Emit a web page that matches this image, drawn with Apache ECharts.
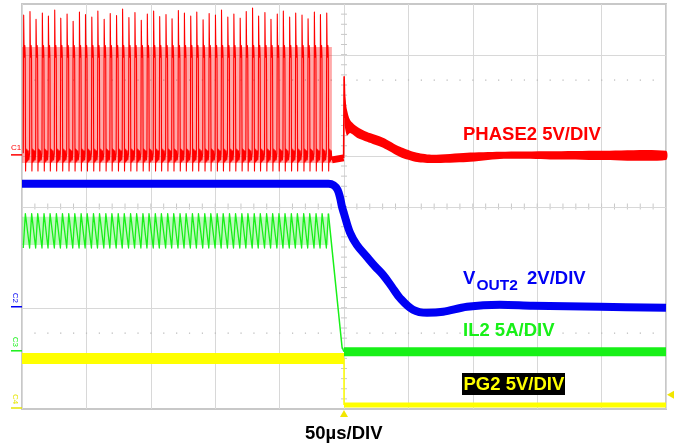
<!DOCTYPE html>
<html>
<head>
<meta charset="utf-8">
<script src="https://cdn.jsdelivr.net/npm/echarts@6/dist/echarts.min.js"></script>
<style>
html,body{margin:0;padding:0;background:#fff;}
#scope{width:676px;height:445px;}
</style>
</head>
<body>
<div id="scope"></div>
<script>
// Horizontal scale: 50 µs per division, trigger at 0. Vertical scale in divisions (0 = bottom line).
const timeMin = -250;
const timeMax = 250;
const timeStep = 50;

// PHASE2 switching pulses before the load step: start time (µs) and spike top (div)
const pulseTimes = [-249.0,-244.1,-239.4,-234.5,-229.8,-224.9,-220.2,-215.3,-210.6,-205.7,
  -201.0,-196.1,-191.4,-186.5,-181.8,-176.9,-172.2,-167.3,-162.6,-157.7,
  -153.0,-148.1,-143.4,-138.5,-133.8,-128.9,-124.2,-119.3,-114.6,-109.7,
  -105.0,-100.1,-95.4,-90.5,-85.8,-80.9,-76.2,-71.3,-66.6,-61.7,
  -57.0,-52.1,-47.4,-42.5,-37.8,-32.9,-28.2,-23.3,-18.6,-13.7];
const pulsePeaks = [7.78,7.85,7.70,7.82,7.76,7.88,7.72,7.80,7.66,7.84,
  7.79,7.74,7.86,7.70,7.81,7.77,7.90,7.73,7.83,7.68,
  7.80,7.86,7.75,7.79,7.71,7.87,7.82,7.76,7.84,7.69,
  7.81,7.78,7.88,7.74,7.80,7.72,7.85,7.92,7.76,7.83,
  7.70,7.80,7.86,7.74,7.82,7.78,7.71,7.84,7.79,7.82];
// One switching cycle of PHASE2: [offset µs, level div]; null = spike top of that pulse
const phaseCycle = [[0,5.05],[0.3,null],[0.6,7.15],[0.9,6.95],[1.2,7.18],[1.5,6.98],[1.8,4.70],
  [2.1,5.14],[2.5,4.88],[2.9,5.12],[3.3,4.90],[3.8,5.10],[4.3,4.92]];
const phaseIdle = [[-9.4,4.92],[-0.3,4.96]];
const phaseSpike = [[-0.3,4.96],[0.1,6.56],[0.5,6.15],[0.9,5.75]];
// PHASE2 after the step: noise envelope (upper / lower edge)
const phaseTailTime  = [0.6,2.3,4.7,10,17.9,30.3,43.5,56.7,69.1,95.5,121,160,199,250];
const phaseTailUpper = [6.20,5.91,5.71,5.58,5.47,5.36,5.18,5.06,5.02,5.06,5.08,5.09,5.10,5.10];
const phaseTailLower = [5.60,5.40,5.45,5.36,5.28,5.16,4.98,4.88,4.86,4.88,4.94,4.93,4.92,4.92];

// VOUT2 (div)
const voutTime  = [-250,-12,-8,-5,-3,-1.6,0,4.7,10,17.6,24,30.3,37,43.5,53.6,64.4,76.9,95.5,121,146.7,198.8,250];
const voutLevel = [4.45,4.45,4.42,4.33,4.17,4.00,3.86,3.48,3.24,3.01,2.82,2.65,2.42,2.19,1.96,1.90,1.92,2.02,2.06,2.04,2.02,2.00];

// IL2 inductor current ripple (valley / peak, div) and its fall after switching stops
const ilValley = 3.18;
const ilPeak = 3.86;
const ilRise = 1.6;
const ilFall = [[-12.1,3.86],[-1.5,1.22],[0,1.13],[250,1.13]];

// PG2 (div)
const pgBefore = [[-250,1.0],[0,1.0]];
const pgEdge = [[0,1.0],[0,0.08]];
const pgAfter = [[0,0.08],[250,0.08]];
const triggerLevel = 0.28;

// Graticule lines drawn solid / dotted (div)
const solidRows = [2,4,5,7];
const dottedRows = [6.5,1.5];

const RED = '#ff0000', BLUE = '#0000f4', GREEN = '#18f018', YELLOW = '#ffff00';

// ---- build traces ----
const phasePulses = [];
pulseTimes.forEach((t, i) => {
  phaseCycle.forEach(p => phasePulses.push([t + p[0], p[1] === null ? pulsePeaks[i] : p[1]]));
});
const ilRipple = [];
pulseTimes.forEach(t => { ilRipple.push([t, ilValley]); ilRipple.push([t + ilRise, ilPeak]); });

const chart = echarts.init(document.getElementById('scope'), null, {renderer: 'canvas'});

function trace(data, color, width, z, smooth) {
  return {
    type: 'line', data: data, showSymbol: false, symbol: 'none', silent: true, z: z,
    animation: false, smooth: smooth || false,
    lineStyle: {color: color, width: width, cap: 'butt', join: 'round'}
  };
}

const graticule = {
  type: 'custom', silent: true, z: 1, data: [[0, 0]],
  renderItem: function (params, api) {
    const kids = [];
    // minor ticks on the centre cross
    for (let k = 1; k < 50; k++) {
      const p = api.coord([timeMin + k * 10, 4]);
      kids.push({type: 'line', shape: {x1: p[0], y1: p[1] - 3, x2: p[0], y2: p[1] + 3},
        style: {stroke: '#c8c8c8', lineWidth: 1}});
    }
    for (let k = 1; k < 40; k++) {
      const p = api.coord([0, k * 0.2]);
      kids.push({type: 'line', shape: {x1: p[0] - 3, y1: p[1], x2: p[0] + 3, y2: p[1]},
        style: {stroke: '#c8c8c8', lineWidth: 1}});
    }
    solidRows.forEach(v => {
      const a = api.coord([timeMin, v]), b = api.coord([timeMax, v]);
      kids.push({type: 'line', shape: {x1: a[0], y1: Math.round(a[1]) + 0.5, x2: b[0], y2: Math.round(b[1]) + 0.5},
        style: {stroke: '#d8d8d8', lineWidth: 1}});
    });
    dottedRows.forEach(v => {
      for (let k = 1; k < 50; k++) {
        const p = api.coord([timeMin + k * 10, v]);
        kids.push({type: 'rect', shape: {x: p[0] - 0.5, y: p[1] - 0.5, width: 1.2, height: 1.2},
          style: {fill: '#b8b8b8'}});
      }
    });
    return {type: 'group', children: kids};
  }
};

// persistence haze behind the fast switching traces
function haze(t0, t1, lo, hi, fill, z) {
  return {
    type: 'custom', silent: true, z: z, data: [[t0, t1, lo, hi]],
    renderItem: function (params, api) {
      const a = api.coord([api.value(0), api.value(3)]);
      const b = api.coord([api.value(1), api.value(2)]);
      return {type: 'rect', shape: {x: a[0], y: a[1], width: b[0] - a[0], height: b[1] - a[1]}, style: {fill: fill}};
    }
  };
}

const phaseTail = {
  type: 'custom', silent: true, z: 6, data: [[0, 0]],
  renderItem: function (params, api) {
    const pts = [];
    phaseTailTime.forEach((t, i) => pts.push(api.coord([t, phaseTailUpper[i]])));
    for (let i = phaseTailTime.length - 1; i >= 0; i--) pts.push(api.coord([phaseTailTime[i], phaseTailLower[i]]));
    return {type: 'polygon', shape: {points: pts, smooth: 0.25}, style: {fill: RED}};
  }
};

const lastPulse = pulseTimes[pulseTimes.length - 1];

chart.setOption({
  animation: false,
  backgroundColor: '#ffffff',
  grid: {left: 22, right: 10, top: 4, bottom: 36, show: true, borderColor: '#c8c8c8', borderWidth: 2, backgroundColor: 'transparent'},
  xAxis: {type: 'value', min: timeMin, max: timeMax, interval: timeStep,
    axisLine: {show: false}, axisTick: {show: false}, axisLabel: {show: false},
    splitLine: {show: true, lineStyle: {color: '#d8d8d8', width: 1}}},
  yAxis: {type: 'value', min: 0, max: 8, interval: 1,
    axisLine: {show: false}, axisTick: {show: false}, axisLabel: {show: false}, splitLine: {show: false}},
  series: [
    graticule,
    haze(pulseTimes[0] - 1, lastPulse + 4.3, 4.86, 7.15, 'rgba(255,40,40,0.40)', 2),
    haze(pulseTimes[0] - 1, lastPulse + 1.6, 3.24, 3.80, 'rgba(40,235,40,0.30)', 2),
    trace(pgBefore, YELLOW, 11, 3),
    trace(pgEdge, YELLOW, 1.5, 3),
    trace(pgAfter, YELLOW, 5, 3),
    trace(ilRipple, GREEN, 1.3, 4),
    trace(ilFall.slice(0, 3), GREEN, 1.5, 4),
    trace(ilFall.slice(2), GREEN, 9, 4),
    trace(voutTime.map((t, i) => [t, voutLevel[i]]), BLUE, 8, 5, 0.35),
    trace(phasePulses, RED, 1.1, 6),
    trace(phaseIdle, RED, 7, 6),
    trace(phaseSpike, RED, 1.6, 6),
    phaseTail
  ]
});

// ---- annotations ----
const FONT = 'bold 18.5px "Liberation Sans", Arial, sans-serif';
const o = chart.convertToPixel({gridIndex: 0}, [0, 0]);
const r = chart.convertToPixel({gridIndex: 0}, [timeMax, triggerLevel]);
const c1 = chart.convertToPixel({gridIndex: 0}, [timeMin, 5.0]);
const c2 = chart.convertToPixel({gridIndex: 0}, [timeMin, 2.0]);
const c3 = chart.convertToPixel({gridIndex: 0}, [timeMin, 1.13]);
const c4 = chart.convertToPixel({gridIndex: 0}, [timeMin, 0]);

function label(text, x, y, fill, font) {
  return {type: 'text', x: x, y: y, z: 20, silent: true,
    style: {text: text, fill: fill, font: font || FONT, textAlign: 'left', textVerticalAlign: 'middle', verticalAlign: 'middle'}};
}
function chan(text, pos, color, rotated) {
  const els = [];
  const font = '8px "Liberation Sans", Arial, sans-serif';
  if (rotated) {
    els.push({type: 'text', x: pos[0] - 7, y: pos[1] - 10, rotation: -Math.PI / 2, z: 20, silent: true,
      style: {text: text, fill: color, font: font, textAlign: 'center', textVerticalAlign: 'middle', verticalAlign: 'middle'}});
  } else {
    els.push({type: 'text', x: pos[0] - 6, y: pos[1] - 8, z: 20, silent: true,
      style: {text: text, fill: color, font: font, textAlign: 'center', textVerticalAlign: 'middle', verticalAlign: 'middle'}});
  }
  els.push({type: 'line', z: 20, silent: true, shape: {x1: pos[0] - 11, y1: pos[1] - 1, x2: pos[0], y2: pos[1] - 1},
    style: {stroke: color, lineWidth: 1.5}});
  return els;
}

chart.setOption({
  graphic: [
    label('PHASE2 5V/DIV', 463, 135, RED),
    label('V', 463, 279, BLUE),
    label('OUT2', 476.5, 286, BLUE, 'bold 15.5px "Liberation Sans", Arial, sans-serif'),
    label('2V/DIV', 527, 279, BLUE),
    label('IL2 5A/DIV', 463, 330.5, GREEN),
    {type: 'rect', z: 19, silent: true, shape: {x: 462, y: 373, width: 103, height: 22}, style: {fill: '#000000'}},
    label('PG2 5V/DIV', 463.5, 385, YELLOW),
    label('50\u00b5s/DIV', 305, 434, '#000000'),
    {type: 'polygon', z: 20, silent: true, shape: {points: [[o[0], o[1] + 1], [o[0] - 4, o[1] + 8], [o[0] + 4, o[1] + 8]]}, style: {fill: '#f2e600'}},
    {type: 'polygon', z: 20, silent: true, shape: {points: [[r[0] + 1, r[1]], [r[0] + 8, r[1] - 4], [r[0] + 8, r[1] + 4]]}, style: {fill: '#f2e600'}}
  ].concat(chan('C1', c1, RED, false), chan('C2', c2, BLUE, true), chan('C3', c3, GREEN, true), chan('C4', c4, '#e6e600', true))
});
</script>
</body>
</html>
